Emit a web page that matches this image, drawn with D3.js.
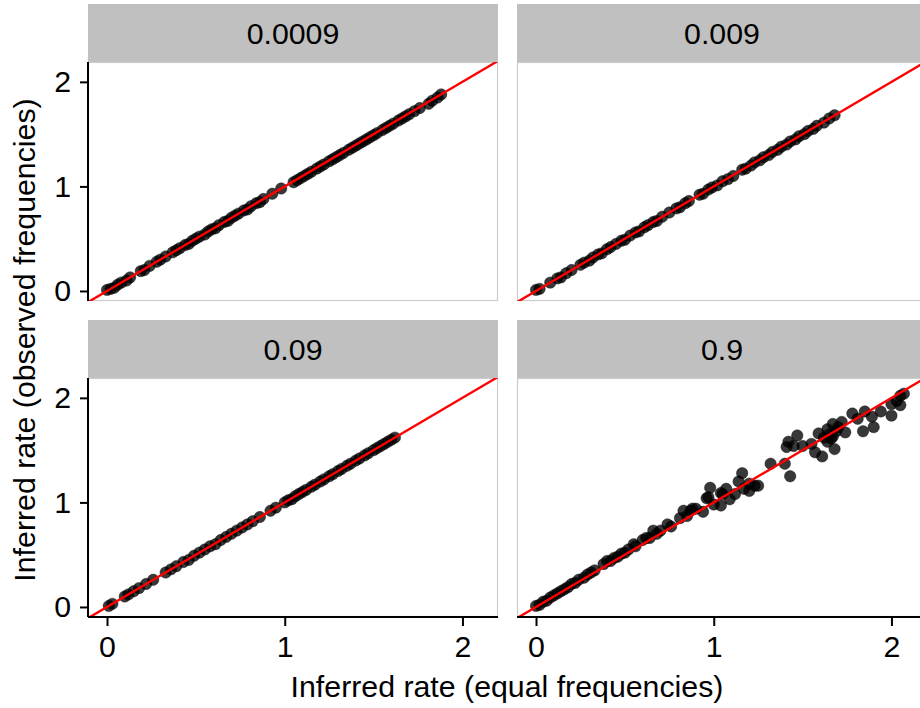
<!DOCTYPE html>
<html>
<head>
<meta charset="utf-8">
<script src="https://cdn.jsdelivr.net/npm/d3@7"></script>
<style>
  body { margin: 0; background: #fff; }
</style>
</head>
<body>
<div class="canva"></div>
<script>
const width = 920;
const height = 708;
const font = "'Liberation Sans', Arial, sans-serif";
const fontSize = 30.3;

// facet labels (mutation rate)
const rates = ["0.0009", "0.009", "0.09", "0.9"];
const xTicks = [0, 1, 2];
const yTicks = [0, 1, 2];

// panel 0.0009
const tlX = [0.00,0.02,0.04,0.06,0.08,0.11,0.13,0.19,0.21,0.24,0.28,0.30,0.33,0.37,0.39,0.41,0.44,0.46,0.48,0.50,0.52,0.55,0.57,0.59,0.61,0.63,0.66,0.68,0.70,0.72,0.74,0.77,0.79,0.81,0.84,0.86,0.88,0.93,0.98,1.05,1.07,1.09,1.11,1.13,1.15,1.18,1.20,1.22,1.25,1.27,1.29,1.31,1.33,1.36,1.38,1.40,1.42,1.44,1.46,1.48,1.50,1.52,1.55,1.57,1.59,1.61,1.64,1.66,1.68,1.70,1.73,1.76,1.81,1.83,1.86,1.88];
const tlY = [0.01,0.02,0.03,0.06,0.08,0.10,0.13,0.19,0.20,0.24,0.28,0.30,0.33,0.37,0.39,0.41,0.44,0.45,0.48,0.50,0.52,0.54,0.57,0.59,0.60,0.63,0.66,0.67,0.70,0.72,0.74,0.77,0.78,0.81,0.84,0.85,0.88,0.93,0.98,1.04,1.06,1.08,1.10,1.12,1.14,1.17,1.19,1.21,1.24,1.26,1.28,1.30,1.32,1.35,1.37,1.39,1.41,1.43,1.45,1.47,1.49,1.51,1.54,1.56,1.58,1.60,1.63,1.65,1.67,1.69,1.72,1.75,1.79,1.82,1.85,1.88];

// panel 0.009
const trX = [0.00,0.02,0.08,0.12,0.14,0.17,0.20,0.25,0.27,0.30,0.32,0.35,0.37,0.40,0.42,0.45,0.48,0.50,0.53,0.56,0.58,0.61,0.63,0.66,0.68,0.71,0.75,0.79,0.81,0.84,0.86,0.92,0.94,0.97,0.99,1.02,1.05,1.08,1.11,1.16,1.18,1.21,1.23,1.26,1.28,1.31,1.33,1.36,1.38,1.41,1.43,1.46,1.48,1.51,1.53,1.56,1.58,1.62,1.65,1.68];
const trY = [0.01,0.02,0.08,0.12,0.13,0.17,0.20,0.25,0.27,0.29,0.32,0.35,0.36,0.40,0.42,0.45,0.48,0.49,0.53,0.56,0.57,0.61,0.63,0.66,0.67,0.71,0.75,0.79,0.80,0.84,0.86,0.92,0.93,0.97,0.99,1.01,1.05,1.07,1.10,1.16,1.17,1.20,1.23,1.25,1.28,1.30,1.33,1.35,1.38,1.40,1.43,1.45,1.48,1.50,1.53,1.55,1.58,1.61,1.65,1.68];

// panel 0.09
const blX = [0.01,0.03,0.10,0.12,0.15,0.18,0.22,0.26,0.33,0.36,0.39,0.43,0.46,0.49,0.52,0.55,0.58,0.61,0.64,0.67,0.70,0.73,0.76,0.79,0.82,0.86,0.92,0.95,1.00,1.02,1.04,1.06,1.08,1.10,1.12,1.15,1.17,1.20,1.22,1.25,1.27,1.30,1.32,1.35,1.37,1.40,1.42,1.45,1.47,1.50,1.52,1.54,1.56,1.58,1.60,1.62];
const blY = [0.01,0.03,0.10,0.12,0.15,0.18,0.22,0.26,0.33,0.36,0.39,0.43,0.45,0.49,0.52,0.55,0.58,0.60,0.64,0.67,0.70,0.73,0.76,0.79,0.82,0.86,0.92,0.95,1.00,1.02,1.03,1.06,1.08,1.10,1.12,1.15,1.17,1.20,1.22,1.25,1.27,1.30,1.32,1.35,1.37,1.40,1.42,1.45,1.47,1.50,1.52,1.54,1.56,1.58,1.60,1.62];

// panel 0.9
const brX = [0.00,0.02,0.04,0.06,0.08,0.10,0.12,0.14,0.16,0.18,0.20,0.22,0.24,0.27,0.29,0.31,0.33,0.38,0.40,0.42,0.44,0.46,0.48,0.50,0.52,0.55,0.56,0.60,0.62,0.64,0.66,0.68,0.70,0.74,0.76,0.81,0.83,0.85,0.87,0.88,0.90,0.94,0.96,0.97,0.98,1.00,1.04,1.04,1.05,1.07,1.09,1.12,1.14,1.16,1.17,1.20,1.20,1.23,1.25,1.32,1.40,1.41,1.42,1.43,1.45,1.47,1.50,1.55,1.57,1.59,1.61,1.62,1.64,1.64,1.65,1.66,1.67,1.67,1.68,1.69,1.70,1.72,1.74,1.78,1.81,1.84,1.85,1.89,1.90,1.94,2.00,2.00,2.03,2.05,2.05,2.07];
const brY = [0.01,0.02,0.05,0.06,0.09,0.11,0.13,0.15,0.17,0.19,0.22,0.23,0.26,0.28,0.31,0.33,0.35,0.41,0.44,0.44,0.47,0.48,0.51,0.52,0.55,0.60,0.58,0.64,0.66,0.66,0.73,0.70,0.73,0.79,0.77,0.85,0.92,0.87,0.92,0.94,0.94,0.91,1.04,1.05,1.14,0.98,0.97,1.09,1.08,1.13,1.03,1.08,1.20,1.28,1.13,1.11,1.18,1.16,1.16,1.37,1.37,1.53,1.58,1.25,1.54,1.64,1.54,1.56,1.48,1.66,1.44,1.62,1.58,1.70,1.65,1.61,1.75,1.63,1.51,1.68,1.72,1.77,1.67,1.85,1.80,1.68,1.87,1.82,1.72,1.87,1.94,1.83,1.97,2.02,1.93,2.04];

const panels = [
  { label: rates[0], xs: tlX, ys: tlY },
  { label: rates[1], xs: trX, ys: trY },
  { label: rates[2], xs: blX, ys: blY },
  { label: rates[3], xs: brX, ys: brY }
];

const panelW = 410, panelH = 239, stripH = 58;
const colX = [88, 517];
const rowY = [4, 320];

const x = d3.scaleLinear().domain([-0.107, 2.2]).range([0, panelW]);
const y = d3.scaleLinear().domain([-0.096, 2.19]).range([panelH, 0]);

const svg = d3.select(".canva").append("svg")
    .attr("width", width)
    .attr("height", height)
    .style("display", "block");

panels.forEach((p, i) => {
  const col = i % 2, row = Math.floor(i / 2);
  const g = svg.append("g").attr("transform", `translate(${colX[col]},${rowY[row]})`);

  // strip
  g.append("rect")
      .attr("width", panelW)
      .attr("height", stripH)
      .attr("fill", "#c0c0c0");
  g.append("text")
      .attr("x", panelW / 2)
      .attr("y", stripH / 2)
      .attr("dy", "0.36em")
      .attr("text-anchor", "middle")
      .attr("font-family", font)
      .attr("font-size", fontSize)
      .attr("fill", "#000")
      .text(p.label);

  const pg = g.append("g").attr("transform", `translate(0,${stripH})`);

  pg.append("clipPath").attr("id", "clip" + i)
    .append("rect").attr("width", panelW).attr("height", panelH);

  // panel border
  pg.append("rect")
      .attr("x", 0.5).attr("y", 0.5)
      .attr("width", panelW - 1)
      .attr("height", panelH - 1)
      .attr("fill", "none")
      .attr("stroke", "#cccccc")
      .attr("stroke-width", 1.2);

  const plot = pg.append("g").attr("clip-path", `url(#clip${i})`);

  plot.selectAll("circle")
    .data(p.xs.map((v, j) => [v, p.ys[j]]))
    .enter()
    .append("circle")
      .attr("cx", d => x(d[0]))
      .attr("cy", d => y(d[1]))
      .attr("r", 5.7)
      .attr("fill", "#000")
      .attr("fill-opacity", 0.78)
      .attr("stroke", "#000")
      .attr("stroke-opacity", 0.5)
      .attr("stroke-width", 0.8);

  // y = x reference line
  plot.append("line")
      .attr("x1", x(-0.2)).attr("y1", y(-0.2))
      .attr("x2", x(2.4)).attr("y2", y(2.4))
      .attr("stroke", "#ff0000")
      .attr("stroke-width", 2.4);

  if (col === 0) {
    const ay = pg.append("g")
        .call(d3.axisLeft(y).tickValues(yTicks).tickSize(8).tickPadding(9).tickFormat(d3.format("d")));
    ay.select(".domain").remove();
    ay.selectAll("line").attr("stroke", "#000").attr("stroke-width", 2);
    ay.selectAll("text").attr("font-family", font).attr("font-size", fontSize).attr("fill", "#000");
    pg.append("line")
        .attr("x1", 0).attr("x2", 0)
        .attr("y1", 0).attr("y2", panelH)
        .attr("stroke", "#000").attr("stroke-width", 2);
  }
  if (row === 1) {
    const ax = pg.append("g")
        .attr("transform", `translate(0,${panelH})`)
        .call(d3.axisBottom(x).tickValues(xTicks).tickSize(9).tickPadding(9).tickFormat(d3.format("d")));
    ax.select(".domain").remove();
    ax.selectAll("line").attr("stroke", "#000").attr("stroke-width", 2);
    ax.selectAll("text").attr("font-family", font).attr("font-size", fontSize).attr("fill", "#000");
    pg.append("line")
        .attr("x1", 0).attr("x2", panelW)
        .attr("y1", panelH).attr("y2", panelH)
        .attr("stroke", "#000").attr("stroke-width", 2);
  }
});

// axis titles
svg.append("text")
    .attr("x", 507)
    .attr("y", 697)
    .attr("text-anchor", "middle")
    .attr("font-family", font)
    .attr("font-size", fontSize)
    .attr("fill", "#000")
    .text("Inferred rate (equal frequencies)");

svg.append("text")
    .attr("transform", "translate(35,340) rotate(-90)")
    .attr("text-anchor", "middle")
    .attr("font-family", font)
    .attr("font-size", fontSize)
    .attr("fill", "#000")
    .text("Inferred rate (observed frequencies)");
</script>
</body>
</html>
